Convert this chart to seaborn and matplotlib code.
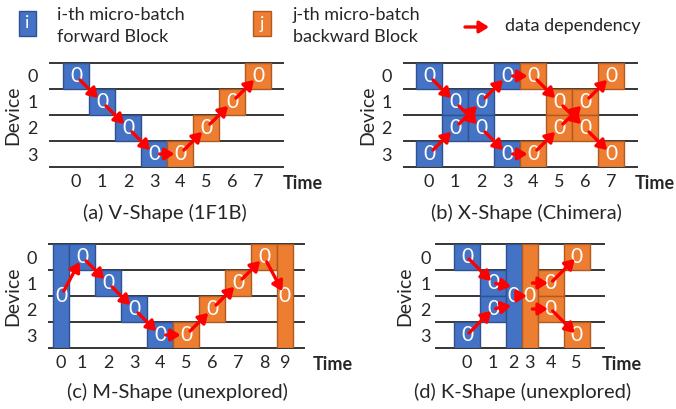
import matplotlib
matplotlib.use("Agg")
import matplotlib.pyplot as plt
import seaborn as sns
import numpy as np
from matplotlib.patches import Rectangle, FancyArrowPatch

sns.set_theme(style="white")
plt.rcParams['font.family'] = ['Lato', 'DejaVu Sans']

BLUE, BLUE_EDGE = "#4472C4", "#2F528F"
ORANGE, ORANGE_EDGE = "#ED7D31", "#AE5A21"
W, H = 676, 409

# ---------------- data ----------------
# (a) V-Shape
a_time = [0, 1, 2, 3, 4, 5, 6, 7]
a_device = [0, 1, 2, 3, 3, 2, 1, 0]
a_span = [1, 1, 1, 1, 1, 1, 1, 1]
a_pass = ['F', 'F', 'F', 'F', 'B', 'B', 'B', 'B']
a_label = ['0'] * 8
a_arrows = [(0, 1), (1, 2), (2, 3), (3, 4), (4, 5), (5, 6), (6, 7)]
a_slots = [1, 1, 1, 1, 1, 1, 1, 1]
a_ticks = ['0', '1', '2', '3', '4', '5', '6', '7']

# (b) X-Shape
b_time = [0, 0, 1, 1, 2, 2, 3, 3, 4, 4, 5, 5, 6, 6, 7, 7]
b_device = [0, 3, 1, 2, 1, 2, 0, 3, 0, 3, 1, 2, 1, 2, 0, 3]
b_span = [1] * 16
b_pass = ['F'] * 8 + ['B'] * 8
b_label = ['0'] * 16
b_arrows = [(0, 2), (1, 3), (2, 5), (3, 4), (4, 6), (5, 7), (6, 8), (7, 9),
            (8, 10), (9, 11), (10, 13), (11, 12), (12, 14), (13, 15)]
b_slots = [1, 1, 1, 1, 1, 1, 1, 1]
b_ticks = ['0', '1', '2', '3', '4', '5', '6', '7']

# (c) M-Shape
c_time = [0, 1, 2, 3, 4, 5, 6, 7, 8, 9]
c_device = [0, 0, 1, 2, 3, 3, 2, 1, 0, 0]
c_span = [4, 1, 1, 1, 1, 1, 1, 1, 1, 4]
c_pass = ['F', 'F', 'F', 'F', 'F', 'B', 'B', 'B', 'B', 'B']
c_label = ['0'] * 10
c_arrows = [(0, 1), (1, 2), (2, 3), (3, 4), (4, 5), (5, 6), (6, 7), (7, 8), (8, 9)]
c_slots = [0.62, 1, 1, 1, 1, 1, 1, 1, 1, 0.6]
c_ticks = ['0', '1', '2', '3', '4', '5', '6', '7', '8', '9']

# (d) K-Shape
d_time = [0, 0, 1, 1, 2, 3, 4, 4, 5, 5]
d_device = [0, 3, 1, 2, 0, 0, 1, 2, 0, 3]
d_span = [1, 1, 1, 1, 4, 4, 1, 1, 1, 1]
d_pass = ['F', 'F', 'F', 'F', 'F', 'B', 'B', 'B', 'B', 'B']
d_label = ['0'] * 10
d_arrows = [(0, 2), (1, 3), (2, 4), (3, 4), (4, 5), (5, 6), (5, 7), (6, 8), (7, 9)]
d_slots = [1, 1, 0.6, 0.62, 1, 1]
d_ticks = ['0', '1', '2', '3', '4', '5']

devices = ['0', '1', '2', '3']


def draw_panel(box, first_px, slots, times, devs, spans, passes, labels, arrows,
               ticks, title, title_xy, time_dx, pull, shrink, dev_x, ypad):
    x0, y0, x1, y1 = box
    ax = fig.add_axes([x0 / W, 1 - y1 / H, (x1 - x0) / W, (y1 - y0) / H])
    ax.set_facecolor('none')
    unit = 26.0
    xl = ((x0 - first_px) / unit, (x1 - first_px) / unit)
    lefts = np.concatenate([[0], np.cumsum(slots)])[:-1]
    widths = np.array(slots)
    bx = lefts[times]
    bw = widths[times]
    cols = [BLUE if p == 'F' else ORANGE for p in passes]
    ecs = [BLUE_EDGE if p == 'F' else ORANGE_EDGE for p in passes]
    ax.hlines(range(5), xl[0], xl[1], color='black', lw=1.1, zorder=1, clip_on=False)
    ax.bar(bx, spans, width=bw, bottom=devs, align='edge', color=cols,
           edgecolor=ecs, linewidth=1.0, zorder=2)
    cx = bx + bw / 2
    cy = np.array(devs) + np.array(spans) / 2
    for i, lab in enumerate(labels):
        ax.text(cx[i], cy[i], lab, color='white', ha='center', va='center',
                fontsize=15, zorder=3)
    for s, t in arrows:
        ys, yt = cy[s], cy[t]
        if spans[s] == 4 and spans[t] != 4:
            ys = yt + pull[0] * (2 - yt)
        if spans[t] == 4 and spans[s] != 4:
            yt = ys + pull[1] * (2 - ys)
        arr = FancyArrowPatch((cx[s], ys), (cx[t], yt),
                              arrowstyle='-|>,head_length=0.4,head_width=0.25',
                              mutation_scale=14, color='#FF0000', lw=2.4,
                              shrinkA=shrink, shrinkB=shrink, zorder=4)
        ax.add_patch(arr)
    ax.set_xlim(*xl)
    ax.set_ylim(4, 0)
    ax.set_xticks(lefts + widths / 2, ticks)
    ax.set_yticks([0.5, 1.5, 2.5, 3.5], devices)
    ax.tick_params(axis='x', length=0, pad=5, labelsize=13)
    ax.tick_params(axis='y', length=0, pad=ypad, labelsize=13)
    sns.despine(ax=ax, left=True, bottom=True)
    ax.grid(False)
    ax.text(1 + time_dx / (x1 - x0), -16 / (y1 - y0), 'Time', transform=ax.transAxes,
            ha='left', va='center', fontsize=13, fontweight='bold')
    fig.text(dev_x / W, 1 - ((y0 + y1) / 2) / H, 'Device', rotation=90,
             ha='center', va='center', fontsize=14)
    fig.text(title_xy[0] / W, 1 - title_xy[1] / H, title, ha='center', va='center',
             fontsize=14.5)
    return ax


fig = plt.figure(figsize=(6.76, 4.09), dpi=100)

draw_panel((49, 63, 284, 167), 63, a_slots, a_time, a_device, a_span, a_pass, a_label,
           a_arrows, a_ticks, '(a) V-Shape (1F1B)', (165, 213), -1, (1, 1), 4, 13, 8)
draw_panel((403, 63, 638, 167), 416, b_slots, b_time, b_device, b_span, b_pass, b_label,
           b_arrows, b_ticks, '(b) X-Shape (Chimera)', (526, 213), -3, (1, 1), 4, 368, 8)
draw_panel((48, 244, 305, 348), 53, c_slots, c_time, c_device, c_span, c_pass, c_label,
           c_arrows, c_ticks, '(c) M-Shape (unexplored)', (177, 392), 8, (1, 1), 4, 13, 8)
draw_panel((435, 244, 605, 348), 454, d_slots, d_time, d_device, d_span, d_pass, d_label,
           d_arrows, d_ticks, '(d) K-Shape (unexplored)', (523, 392), -3, (0, 0.3), 2, 405, 3)

# legend
fig.add_artist(Rectangle((19 / W, 1 - 36 / H), 17 / W, 25 / H, transform=fig.transFigure,
                         facecolor=BLUE, edgecolor=BLUE_EDGE, lw=1))
fig.text(27.5 / W, 1 - 23.5 / H, 'i', color='white', ha='center', va='center', fontsize=13)
fig.text(57 / W, 1 - 15 / H, 'i-th micro-batch', ha='left', va='center', fontsize=13)
fig.text(57 / W, 1 - 37 / H, 'forward Block', ha='left', va='center', fontsize=13)
fig.add_artist(Rectangle((253 / W, 1 - 36 / H), 18 / W, 25 / H, transform=fig.transFigure,
                         facecolor=ORANGE, edgecolor=ORANGE_EDGE, lw=1))
fig.text(262 / W, 1 - 23.5 / H, 'j', color='white', ha='center', va='center', fontsize=13)
fig.text(293 / W, 1 - 15 / H, 'j-th micro-batch', ha='left', va='center', fontsize=13)
fig.text(293 / W, 1 - 37 / H, 'backward Block', ha='left', va='center', fontsize=13)
fig.add_artist(FancyArrowPatch((465 / W, 1 - 27 / H), (489 / W, 1 - 27 / H),
                               transform=fig.transFigure,
                               arrowstyle='-|>,head_length=0.4,head_width=0.25',
                               mutation_scale=14, color='#FF0000', lw=2.4,
                               shrinkA=0, shrinkB=0))
fig.text(505 / W, 1 - 26 / H, 'data dependency', ha='left', va='center', fontsize=13)

fig.savefig('out.png', dpi=100)
